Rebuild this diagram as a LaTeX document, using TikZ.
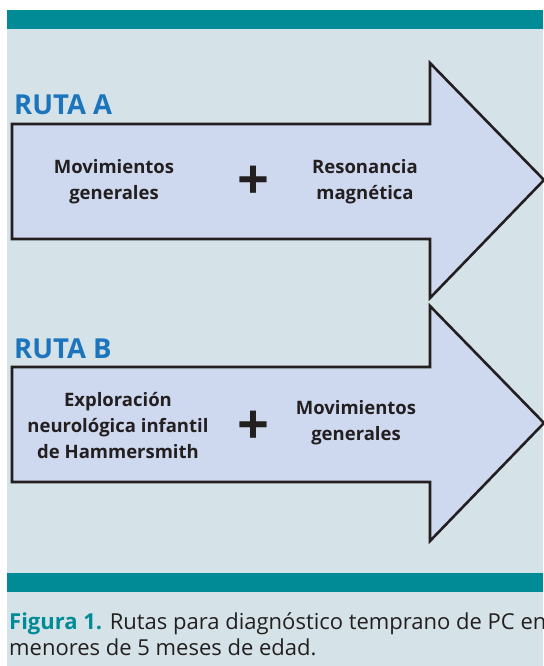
\documentclass[tikz,border=0pt]{standalone}
\usepackage{fontspec}
\setmainfont{Open Sans}
\usepackage{tikz}
\usetikzlibrary{positioning}

\definecolor{fondo}{HTML}{D5E3E8}
\definecolor{banda}{HTML}{008B96}
\definecolor{flecha}{HTML}{CED9EF}
\definecolor{titulo}{HTML}{1C75BC}
\definecolor{texto}{HTML}{231F20}

\begin{document}
\begin{tikzpicture}[x=1pt,y=-1pt,
  flechabox/.style={draw=texto,fill=flecha,line width=2.6pt,line join=miter},
  rutalbl/.style={anchor=base west,inner sep=0pt,text=titulo,font=\fontsize{27.5}{27.5}\selectfont\bfseries},
  cajatxt/.style={align=center,inner sep=0pt,text=texto,font=\fontsize{18.5}{26}\selectfont\bfseries},
  mas/.style={inner sep=0pt,text=texto,font=\fontsize{56}{56}\selectfont\bfseries}]
\useasboundingbox (0,0) rectangle (543,666);
\fill[fondo] (7,10) rectangle (543,666);
\fill[banda] (7,10) rectangle (543,29);
\fill[banda] (7,573) rectangle (543,592);
\foreach \dy/\ruta in {0/A,243/B} {
   \draw[flechabox] (12,124+\dy) -- (430,124+\dy) -- (430,63+\dy) -- (544,180+\dy)
      -- (430,298+\dy) -- (430,239+\dy) -- (12,239+\dy) -- cycle;
   \node[rutalbl] (ruta\ruta) at (14,115+\dy) {RUTA \ruta};
}
\node[cajatxt] (movA) at (114,182) {Movimientos\\generales};
\node[mas] (masA) at (253,183) {+};
\node[cajatxt] (resA) at (365,182) {Resonancia\\magnética};
\node[cajatxt] (expB) at (118,425) {Exploración\\neurológica infantil\\de Hammersmith};
\node[mas] (masB) at (253,428) {+};
\node[cajatxt] (movB) at (356,423) {Movimientos\\generales};
% pie de figura
\node[anchor=base west,inner sep=0pt,align=left,text=texto,
   font=\fontsize{22}{26}\selectfont] (pie) at (9,655)
   {\textcolor{banda}{\bfseries Figura 1.} Rutas para diagnóstico temprano de PC en\\menores de 5 meses de edad.};
\end{tikzpicture}
\end{document}
